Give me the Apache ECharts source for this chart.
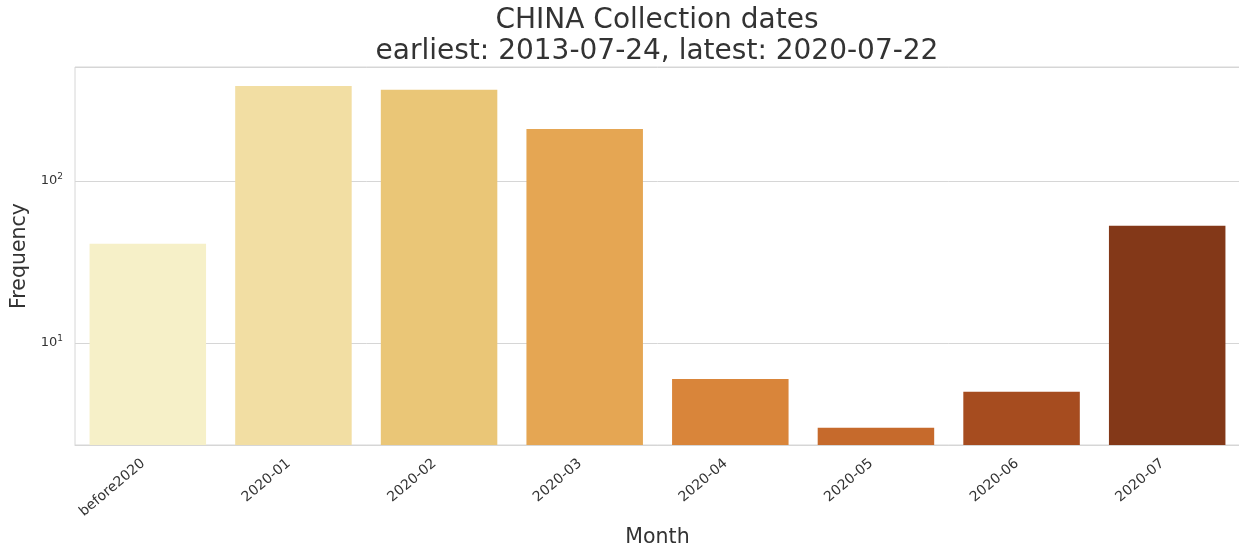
<!DOCTYPE html>
<html>
<head>
<meta charset="utf-8">
<script src="https://cdn.jsdelivr.net/npm/echarts@6/dist/echarts.min.js"></script>
<style>
  html, body { margin: 0; padding: 0; background: #ffffff; }
  #chart { width: 1239px; height: 550px; }
</style>
</head>
<body>
<div id="chart"></div>
<script>
// Monthly sample counts (log scale)
const months = ['before2020', '2020-01', '2020-02', '2020-03', '2020-04', '2020-05', '2020-06', '2020-07'];
const counts = [41, 386, 365, 209, 6, 3, 5, 53];
const barColors = ['#f6f0c8', '#f2dea3', '#eac677', '#e5a653', '#d9853a', '#c66a2c', '#a64c1f', '#833818'];
const titleLines = ['CHINA Collection dates', 'earliest: 2013-07-24, latest: 2020-07-22'];

const font = 'DejaVu Sans';
const chart = echarts.init(document.getElementById('chart'));

// Only decades get a label, written as 10 with a raised exponent
function powerLabel(v) {
  const e = Math.log10(v);
  if (Math.abs(e - Math.round(e)) > 1e-6) return '';
  return '10{sup|' + Math.round(e) + '}';
}

chart.setOption({
  animation: false,
  backgroundColor: '#ffffff',
  title: {
    text: titleLines.join('\n'),
    left: 652,
    textAlign: 'center',
    top: 0,
    textStyle: { fontFamily: font, fontSize: 28, fontWeight: 'normal', color: '#333333', lineHeight: 31 }
  },
  grid: {
    left: 75, top: 67, right: -1, bottom: 105,
    outerBoundsMode: 'none',
    containLabel: false,
    show: true, borderColor: '#d6d6d6', borderWidth: 1
  },
  xAxis: {
    type: 'category',
    data: months,
    name: 'Month',
    nameLocation: 'middle',
    nameGap: 82,
    nameTextStyle: { fontFamily: font, fontSize: 20.5, color: '#333333' },
    axisLine: { show: true, lineStyle: { color: '#d6d6d6', width: 1 } },
    axisTick: { show: false },
    axisLabel: {
      rotate: 40, margin: 13,
      padding: [0, 6, 0, 0],
      fontFamily: font, fontSize: 14, color: '#333333'
    }
  },
  yAxis: {
    type: 'log',
    logBase: 10,
    min: 2.35,
    max: 505,
    name: 'Frequency',
    nameLocation: 'middle',
    nameGap: 42,
    nameTextStyle: { fontFamily: font, fontSize: 20.5, color: '#333333' },
    axisLine: { show: false },
    axisTick: { show: false },
    splitLine: { show: true, lineStyle: { color: '#d6d6d6', width: 1 } },
    axisLabel: {
      margin: 12,
      formatter: powerLabel,
      fontFamily: font, fontSize: 13, color: '#333333',
      rich: {
        sup: { fontFamily: font, fontSize: 9, color: '#333333', verticalAlign: 'bottom', padding: [0, 0, 9, 0] }
      }
    }
  },
  series: [{
    type: 'bar',
    data: counts.map((v, i) => ({ value: v, itemStyle: { color: barColors[i] } })),
    barCategoryGap: '20%'
  }]
});
</script>
</body>
</html>
